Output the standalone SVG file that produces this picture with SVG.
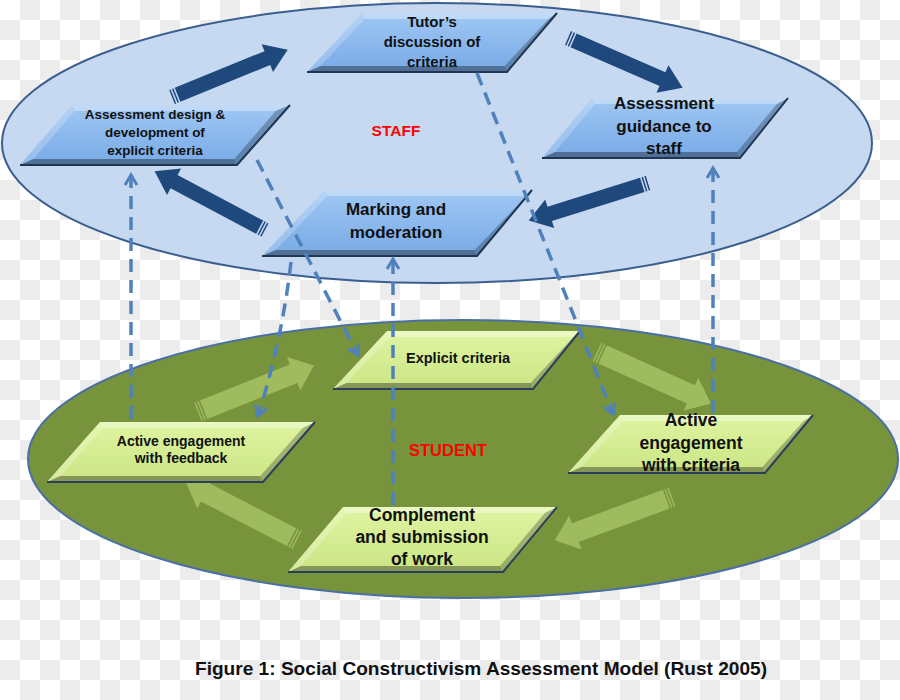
<svg xmlns="http://www.w3.org/2000/svg" xmlns:xlink="http://www.w3.org/1999/xlink" width="900" height="700" viewBox="0 0 900 700">
<style>
.lbl{font-family:"Liberation Sans",Arial,sans-serif;font-weight:bold;fill:#111;text-anchor:middle}
.zone{font-family:"Liberation Sans",Arial,sans-serif;font-weight:bold;fill:#ff0000;text-anchor:middle}
.conn{fill:none;stroke:#4f81bd;stroke-width:3.5;stroke-dasharray:13 8;marker-end:url(#chev)}
.hl{fill:#fff;opacity:0.35}
.hl2{fill:#fff;opacity:0.22}
.sh{fill:#000;opacity:0.35}
.sh2{fill:#000;opacity:0.25}
.edgeB{fill:none;stroke:#1f3550;stroke-width:2}
.edgeG{fill:none;stroke:#2a3f5e;stroke-width:2}
</style>
<defs>
<pattern id="chk" width="40" height="40" patternUnits="userSpaceOnUse">
<rect width="40" height="40" fill="#ffffff"/>
<rect x="20" y="0" width="20" height="20" fill="#ececec"/>
<rect x="0" y="20" width="20" height="20" fill="#ececec"/>
</pattern>
<linearGradient id="gBlue" x1="0" y1="0" x2="0" y2="1">
<stop offset="0" stop-color="#9fc7f3"/>
<stop offset="1" stop-color="#78aae6"/>
</linearGradient>
<linearGradient id="gGreen" x1="0" y1="0" x2="0" y2="1">
<stop offset="0" stop-color="#dff4a2"/>
<stop offset="1" stop-color="#cbe584"/>
</linearGradient>
<marker id="chev" viewBox="0 0 16 16" refX="13" refY="8" markerWidth="16" markerHeight="16" markerUnits="userSpaceOnUse" orient="auto">
<path d="M3,2 L13,8 L3,14" fill="none" stroke="#4f81bd" stroke-width="3"/>
</marker>
<g id="darkArrow" fill="#1f497d">
<rect x="0" y="-7.5" width="1.5" height="15"/>
<rect x="3" y="-7.5" width="1.5" height="15"/>
<polygon points="6,-7.5 103,-7.5 103,-15 125,0 103,15 103,7.5 6,7.5"/>
</g>
<g id="greenArrow" fill="#a3c062" opacity="0.9">
<rect x="0" y="-10" width="1.5" height="20"/>
<rect x="3" y="-10" width="1.5" height="20"/>
<polygon points="6,-10 103,-10 103,-18 125,0 103,18 103,10 6,10"/>
</g>
</defs>

<rect width="900" height="700" fill="url(#chk)"/>

<g id="staff-zone">
<ellipse cx="437" cy="143" rx="435" ry="140" fill="#c6d9f1" stroke="#3a5f8f" stroke-width="2"/>
<text class="zone" x="396" y="136" font-size="15.5">STAFF</text>
</g>
<g id="student-zone">
<ellipse cx="463" cy="459" rx="435" ry="139" fill="#77933c" stroke="#4a6fa5" stroke-width="2"/>
<text class="zone" x="448" y="456" font-size="16.5">STUDENT</text>
</g>

<g id="cycle-arrows">
<use xlink:href="#darkArrow" transform="translate(172,97) rotate(-22.2)"/>
<use xlink:href="#darkArrow" transform="translate(568,38) rotate(23.5)"/>
<use xlink:href="#darkArrow" transform="translate(648,183) rotate(162.6)"/>
<use xlink:href="#darkArrow" transform="translate(265,230) rotate(-152)"/>
<use xlink:href="#greenArrow" transform="translate(198,412) rotate(-21.8)"/>
<use xlink:href="#greenArrow" transform="translate(597,352) rotate(24.3)"/>
<use xlink:href="#greenArrow" transform="translate(672,497) rotate(159.8)"/>
<use xlink:href="#greenArrow" transform="translate(297,540) rotate(-152.6)"/>
</g>

<g id="tutor">
<polygon points="362,13 557,13 507,72 307,72" fill="url(#gBlue)"/>
<polygon class="hl" points="362,13 557,13 548.4,19 364.4,19"/>
<polygon class="hl2" points="362,13 364.4,19 320.6,66 307,72"/>
<polygon class="sh" points="307,72 320.6,66 504.6,66 507,72"/>
<polygon class="sh2" points="557,13 507,72 504.6,66 548.4,19"/>
<polyline class="edgeB" points="307,72 507,72 557,13"/>
<text class="lbl" font-size="15"><tspan x="432" y="27">Tutor’s</tspan><tspan x="432" y="47">discussion of</tspan><tspan x="432" y="67">criteria</tspan></text>
</g>

<g id="design">
<polygon points="72,105 290,105 237,165 20,165" fill="url(#gBlue)"/>
<polygon class="hl" points="72,105 290,105 275.7,111 74.7,111"/>
<polygon class="hl2" points="72,105 74.7,111 33.3,159 20,165"/>
<polygon class="sh" points="20,165 33.3,159 234.3,159 237,165"/>
<polygon class="sh2" points="290,105 237,165 234.3,159 275.7,111"/>
<polyline class="edgeB" points="20,165 237,165 290,105"/>
<text class="lbl" font-size="13.5"><tspan x="155" y="119">Assessment design &amp;</tspan><tspan x="155" y="137">development of</tspan><tspan x="155" y="155">explicit criteria</tspan></text>
</g>

<g id="marking">
<polygon points="325,190 532,190 477,256 262,256" fill="url(#gBlue)"/>
<polygon class="hl" points="325,190 532,190 526.3,196 327.3,196"/>
<polygon class="hl2" points="325,190 327.3,196 275.7,250 262,256"/>
<polygon class="sh" points="262,256 275.7,250 474.7,250 477,256"/>
<polygon class="sh2" points="532,190 477,256 474.7,250 526.3,196"/>
<polyline class="edgeB" points="262,256 477,256 532,190"/>
<text class="lbl" font-size="17"><tspan x="396" y="215">Marking and</tspan><tspan x="396" y="238">moderation</tspan></text>
</g>

<g id="guidance">
<polygon points="592,98 788,98 740,158 542,158" fill="url(#gBlue)"/>
<polygon class="hl" points="592,98 788,98 777,104 595,104"/>
<polygon class="hl2" points="592,98 595,104 555,152 542,158"/>
<polygon class="sh" points="542,158 555,152 737,152 740,158"/>
<polygon class="sh2" points="788,98 740,158 737,152 777,104"/>
<polyline class="edgeB" points="542,158 740,158 788,98"/>
<text class="lbl" font-size="17"><tspan x="664" y="109">Assessment</tspan><tspan x="664" y="132">guidance to</tspan><tspan x="664" y="154">staff</tspan></text>
</g>

<g id="explicit">
<polygon points="387,331 580,331 533,389 333,389" fill="url(#gGreen)"/>
<polygon class="hl" points="387,331 580,331 573.4,337 389.4,337"/>
<polygon class="hl2" points="387,331 389.4,337 346.6,383 333,389"/>
<polygon class="sh" points="333,389 346.6,383 530.6,383 533,389"/>
<polygon class="sh2" points="580,331 533,389 530.6,383 573.4,337"/>
<polyline class="edgeG" points="333,389 533,389 580,331"/>
<text class="lbl" font-size="14.5" x="458" y="363">Explicit criteria</text>
</g>

<g id="feedback">
<polygon points="100,422 315,422 263,482 47,482" fill="url(#gGreen)"/>
<polygon class="hl" points="100,422 315,422 302.7,428 102.7,428"/>
<polygon class="hl2" points="100,422 102.7,428 60.3,476 47,482"/>
<polygon class="sh" points="47,482 60.3,476 260.3,476 263,482"/>
<polygon class="sh2" points="315,422 263,482 260.3,476 302.7,428"/>
<polyline class="edgeG" points="47,482 263,482 315,422"/>
<text class="lbl" font-size="14"><tspan x="181" y="446">Active engagement</tspan><tspan x="181" y="463">with feedback</tspan></text>
</g>

<g id="complement">
<polygon points="343,507 557,507 503,572 288,572" fill="url(#gGreen)"/>
<polygon class="hl" points="343,507 557,507 544.9,513 345.9,513"/>
<polygon class="hl2" points="343,507 345.9,513 301.1,566 288,572"/>
<polygon class="sh" points="288,572 301.1,566 500.1,566 503,572"/>
<polygon class="sh2" points="557,507 503,572 500.1,566 544.9,513"/>
<polyline class="edgeG" points="288,572 503,572 557,507"/>
<text class="lbl" font-size="17.5"><tspan x="422" y="521">Complement</tspan><tspan x="422" y="543">and submission</tspan><tspan x="422" y="565">of work</tspan></text>
</g>

<g id="engagement-criteria">
<polygon points="620,415 813,415 765,473 568,473" fill="url(#gGreen)"/>
<polygon class="hl" points="620,415 813,415 803.6,421 622.6,421"/>
<polygon class="hl2" points="620,415 622.6,421 581.4,467 568,473"/>
<polygon class="sh" points="568,473 581.4,467 762.4,467 765,473"/>
<polygon class="sh2" points="813,415 765,473 762.4,467 803.6,421"/>
<polyline class="edgeG" points="568,473 765,473 813,415"/>
<text class="lbl" font-size="17.5"><tspan x="691" y="426">Active</tspan><tspan x="691" y="449">engagement</tspan><tspan x="691" y="471">with criteria</tspan></text>
</g>

<g id="connectors">
<path class="conn" d="M131,419 L131,175"/>
<path class="conn" d="M257,160 L358,355"/>
<path class="conn" d="M291,262 Q282,340 258,416"/>
<path class="conn" d="M393,505 L393,259"/>
<path class="conn" d="M477,73 L613,414"/>
<path class="conn" d="M713,413 L713,168"/>
</g>

<text x="195" y="675" font-family="Liberation Sans,Arial,sans-serif" font-size="19" font-weight="bold" fill="#111" textLength="572" lengthAdjust="spacingAndGlyphs">Figure 1: Social Constructivism Assessment Model (Rust 2005)</text>
</svg>
